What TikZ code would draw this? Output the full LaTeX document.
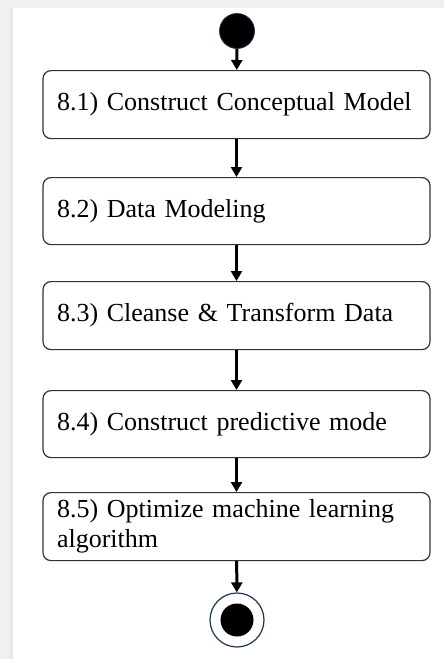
\documentclass[tikz,border=0pt]{standalone}
\usepackage{fontspec}
\setmainfont{Liberation Serif}
\usetikzlibrary{arrows.meta}
\definecolor{framegray}{HTML}{F0F0F0}
\definecolor{edgegray}{HTML}{E8E8E8}
\definecolor{boxline}{HTML}{333333}
\definecolor{ringblue}{HTML}{1F3550}
\begin{document}
\begin{tikzpicture}[x=1pt,y=-1pt,
  activity/.style={draw=boxline,line width=1.2pt,rounded corners=8pt,
    minimum width=387pt,minimum height=68pt,align=left,
    text width=359pt,inner xsep=14pt,inner ysep=0pt,anchor=north,
    font=\fontsize{26}{30}\selectfont},
  flow/.style={line width=3pt,-{Triangle[width=11pt,length=10pt]}},
  startdot/.style={circle,fill=black,draw=ringblue,line width=0.8pt,minimum size=35pt,inner sep=0pt},
  enddot/.style={circle,draw=ringblue,line width=1.2pt,minimum size=54pt,inner sep=0pt},
  enddotcore/.style={circle,fill=black,minimum size=33pt,inner sep=0pt}]
  % page frame
  \fill[framegray] (0,0) rectangle (444,659);
  \fill[edgegray] (10,8) rectangle (13,659);
  \fill[white] (13,8) rectangle (444,659);
  \useasboundingbox (0,0) rectangle (444,659);

  \node[startdot] (start) at (237,31) {};
  \node[activity] (s1) at (236.5,70) {\mbox{8.1) Construct Conceptual Model}};
  \node[activity,minimum height=67pt] (s2) at (236.5,177) {\mbox{8.2) Data Modeling}};
  \node[activity] (s3) at (236.5,281) {\mbox{8.3) Cleanse \& Transform Data}};
  \node[activity,minimum height=67pt] (s4) at (236.5,390) {\mbox{8.4) Construct predictive mode}};
  \node[activity] (s5) at (236.5,492) {\mbox{8.5) Optimize machine learning}\\\mbox{algorithm}};
  \node[enddot] (finish) at (237,620) {};
  \node[enddotcore] (finishcore) at (finish.center) {};

  \draw[flow] (start) -- (s1);
  \draw[flow] (s1) -- (s2);
  \draw[flow] (s2) -- (s3);
  \draw[flow] (s3) -- (s4);
  \draw[flow] (s4) -- (s5);
  \draw[flow] (s5) -- (finish);
\end{tikzpicture}
\end{document}
